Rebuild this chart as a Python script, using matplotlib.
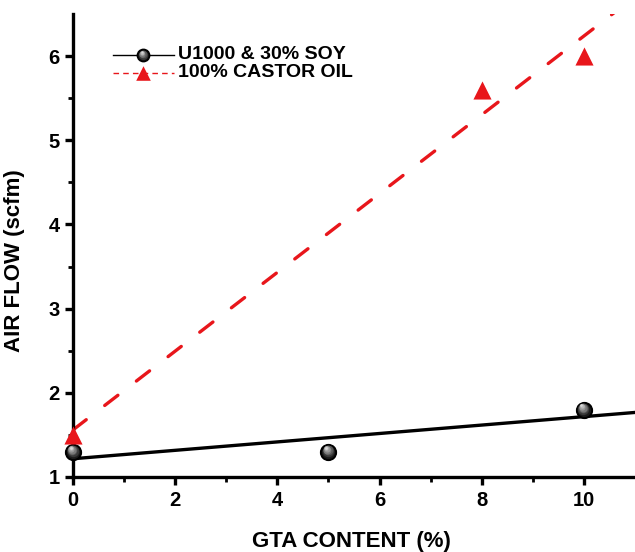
import numpy as np
import matplotlib
matplotlib.use('Agg')
import matplotlib.pyplot as plt
from matplotlib.transforms import offset_copy

plt.rcParams['font.family'] = ['Liberation Sans', 'DejaVu Sans']
plt.rcParams['font.weight'] = 'bold'

gta_soy = [0, 5, 10]
flow_soy = [1.3, 1.3, 1.8]
gta_castor = [0, 8, 10]
flow_castor = [1.5, 5.6, 6.0]
label_soy = 'U1000 & 30% SOY'
label_castor = '100% CASTOR OIL'

RED = '#e8161b'

fig = plt.figure(figsize=(6.35, 5.52), dpi=100)
ax = fig.add_axes([0.115, 0.1359, 0.885, 0.8388])


def sphere(ax, x, y, size, zbase, tr_base=None):
    # black ball with a grey highlight shifted up-left
    ax.scatter(x, y, s=size, color='black', zorder=zbase, clip_on=False,
               transform=tr_base or ax.transData)
    for i, g in enumerate(np.linspace(0.1, 0.85, 7)):
        tr = offset_copy(tr_base or ax.transData, fig=fig, x=-0.3 * i * size / 130,
                         y=0.5 * i * size / 130, units='points')
        ax.scatter(x, y, s=size * 0.7 * (1 - i / 7.5) ** 2, color=str(g),
                   lw=0, zorder=zbase + 1 + i, transform=tr, clip_on=False)


# linear fits drawn across the whole x range
xs = np.array([0, 11])
k1, b1 = np.polyfit(gta_soy, flow_soy, 1)
k2, b2 = np.polyfit(gta_castor, flow_castor, 1)
ax.plot(xs, k1 * xs + b1, color='black', lw=2.4, zorder=2)
ax.plot(xs, k2 * xs + b2, color=RED, lw=2.4, dashes=(5, 7),
        dash_capstyle='round', zorder=2)

sphere(ax, gta_soy, flow_soy, 130, 4)
ax.scatter(gta_castor, flow_castor, s=170, marker='^', color=RED,
           lw=0, zorder=4, clip_on=False)

ax.set_xlim(0, 11)
ax.set_ylim(1, 6.5)
ax.set_xticks([0, 2, 4, 6, 8, 10])
ax.set_xticks(np.arange(1, 11, 2), minor=True)
ax.set_yticks([1, 2, 3, 4, 5, 6])
ax.set_yticks(np.arange(1.5, 6.5, 1), minor=True)
ax.tick_params(which='major', direction='out', length=6, width=2.4, labelsize=14.5)
ax.tick_params(axis='x', which='major', pad=4)
ax.tick_params(axis='y', which='major', pad=3.5)
ax.tick_params(which='minor', direction='out', length=3.5, width=2)
for lab in ax.get_xticklabels() + ax.get_yticklabels():
    lab.set_fontweight('bold')

for side in ['top', 'right']:
    ax.spines[side].set_visible(False)
for side in ['left', 'bottom']:
    ax.spines[side].set_linewidth(2.4)

ax.set_xlabel('GTA CONTENT (%)', fontsize=16, fontweight='bold', va='center')
ax.xaxis.set_label_coords(0.495, -0.140)
ax.set_ylabel('AIR FLOW (scfm)', fontsize=16, fontweight='bold', va='center')
ax.yaxis.set_label_coords(-0.105, 0.4665)

# legend entries: short sample line, marker, label
rows = [(0.9114, 'black', 'solid', label_soy), (0.8726, RED, 'dashed', label_castor)]
for y, c, style, text in rows:
    if style == 'solid':
        ax.plot([0.071, 0.180], [y, y], color=c, lw=1, transform=ax.transAxes,
                clip_on=False, zorder=6)
        sphere(ax, [0.1246], [y], 80, 7, tr_base=ax.transAxes)
    else:
        ax.plot([0.071, 0.180], [y, y], color=c, lw=1, dashes=(4, 3),
                transform=ax.transAxes, clip_on=False, zorder=6)
        ax.scatter([0.1246], [y], s=110, marker='^', color=c, lw=0,
                   transform=ax.transAxes, zorder=7, clip_on=False)
    ax.text(0.1868, y, text, transform=ax.transAxes, fontsize=14,
            fontweight='bold', va='center', ha='left')

fig.savefig('out.png', dpi=100)
